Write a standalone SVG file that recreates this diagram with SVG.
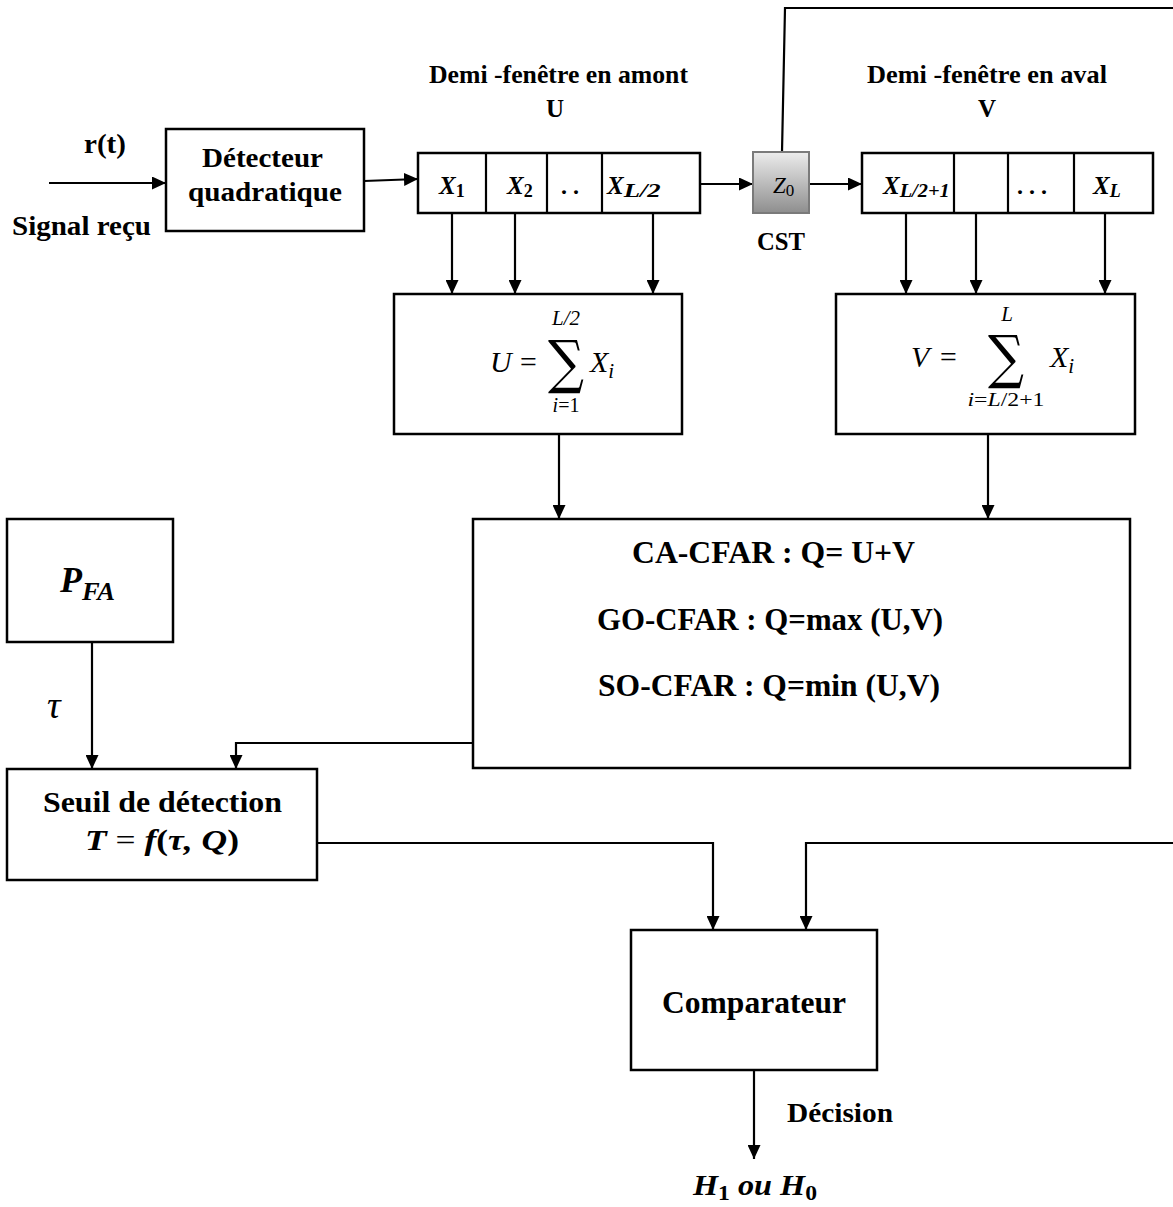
<svg xmlns="http://www.w3.org/2000/svg" width="1173" height="1207" viewBox="0 0 1173 1207">
<defs>
<marker id="ah" markerUnits="userSpaceOnUse" markerWidth="14" markerHeight="13" refX="14" refY="6.5" orient="auto">
<path d="M0,0 L14,6.5 L0,13 z" fill="#000"/>
</marker>
<linearGradient id="gcst" x1="0" y1="0" x2="0" y2="1">
<stop offset="0" stop-color="#ececec"/>
<stop offset="1" stop-color="#8e8e8e"/>
</linearGradient>
</defs>
<style>
.box{fill:#fff;stroke:#000;stroke-width:2.5}
.ln{fill:none;stroke:#000;stroke-width:2.2}
.ar{fill:none;stroke:#000;stroke-width:2.2;marker-end:url(#ah)}
.b{font-family:"Liberation Serif",serif;font-weight:bold;fill:#000}
.m{font-family:"Liberation Serif",serif;font-style:italic;fill:#000}
.mb{font-family:"Liberation Serif",serif;font-style:italic;font-weight:bold;fill:#000}
.sig{font-family:"DejaVu Serif",serif;fill:#000}
</style>
<rect width="1173" height="1207" fill="#fff"/>

<g id="connectors">
<path class="ar" d="M49,183 H166"/>
<path class="ar" d="M364,181 L418,179"/>
<path class="ar" d="M700,184 H753"/>
<path class="ar" d="M809,184 H862"/>
<path class="ar" d="M452,213 V294"/>
<path class="ar" d="M515,213 V294"/>
<path class="ar" d="M653,213 V294"/>
<path class="ar" d="M906,213 V294"/>
<path class="ar" d="M976,213 V294"/>
<path class="ar" d="M1105,213 V294"/>
<path class="ar" d="M559,434 V519"/>
<path class="ar" d="M988,434 V519"/>
<path class="ar" d="M92,642 V769"/>
<path class="ar" d="M473,743 H236 V769"/>
<path class="ar" d="M317,843 H713 V930"/>
<path class="ln" d="M782,152 L785,8 H1173"/>
<path class="ar" d="M1173,843 H806 V930"/>
<path class="ar" d="M754,1070 V1159"/>
</g>

<g id="input-labels">
<text class="b" x="84" y="153" font-size="28" textLength="42" lengthAdjust="spacingAndGlyphs">r(t)</text>
<text class="b" x="12" y="235" font-size="28" textLength="139" lengthAdjust="spacingAndGlyphs">Signal reçu</text>
</g>

<g id="detecteur">
<rect class="box" x="166" y="129" width="198" height="102"/>
<text class="b" x="202" y="167" font-size="28" textLength="121" lengthAdjust="spacingAndGlyphs">Détecteur</text>
<text class="b" x="188" y="201" font-size="28" textLength="154" lengthAdjust="spacingAndGlyphs">quadratique</text>
</g>

<g id="fenetre-amont">
<text class="b" x="429" y="83" font-size="25" textLength="259" lengthAdjust="spacingAndGlyphs">Demi -fenêtre en amont</text>
<text class="b" x="555" y="117" font-size="25" text-anchor="middle">U</text>
<rect class="box" x="418" y="153" width="282" height="60"/>
<path class="ln" d="M486,153 V213 M547,153 V213 M602,153 V213"/>
<text class="mb" x="439" y="194" font-size="25">X<tspan font-size="18" font-style="normal" dy="3">1</tspan></text>
<text class="mb" x="507" y="194" font-size="25">X<tspan font-size="18" font-style="normal" dy="3">2</tspan></text>
<text class="b" x="570" y="194" font-size="24" text-anchor="middle">. .</text>
<text class="mb" x="607" y="194" font-size="25">X<tspan font-size="18" dy="3" textLength="37" lengthAdjust="spacingAndGlyphs">L/2</tspan></text>
</g>

<g id="cst">
<rect x="753" y="152" width="56" height="61" fill="url(#gcst)" stroke="#7a7a7a" stroke-width="2"/>
<text class="m" x="773" y="193" font-size="23">Z<tspan font-size="17" font-style="normal" dy="3">0</tspan></text>
<text class="b" x="757" y="250" font-size="25" textLength="48" lengthAdjust="spacingAndGlyphs">CST</text>
</g>

<g id="fenetre-aval">
<text class="b" x="867" y="83" font-size="25" textLength="240" lengthAdjust="spacingAndGlyphs">Demi -fenêtre en aval</text>
<text class="b" x="987" y="117" font-size="25" text-anchor="middle">V</text>
<rect class="box" x="862" y="153" width="291" height="60"/>
<path class="ln" d="M954,153 V213 M1008,153 V213 M1074,153 V213"/>
<text class="mb" x="883" y="194" font-size="25">X<tspan font-size="18" dy="3" textLength="50" lengthAdjust="spacingAndGlyphs">L/2+1</tspan></text>
<text class="b" x="1032" y="194" font-size="24" text-anchor="middle">. . .</text>
<text class="mb" x="1093" y="194" font-size="25">X<tspan font-size="18" dy="3">L</tspan></text>
</g>

<g id="somme-u">
<rect class="box" x="394" y="294" width="288" height="140"/>
<text class="m" x="490" y="372" font-size="30">U</text>
<text class="m" x="528" y="372" font-size="30" text-anchor="middle" font-style="normal">=</text>
<text class="sig" x="548" y="382" font-size="58" textLength="36" lengthAdjust="spacingAndGlyphs">∑</text>
<text class="m" x="566" y="325" font-size="21" text-anchor="middle">L/2</text>
<text class="m" x="566" y="412" font-size="20" text-anchor="middle">i<tspan font-style="normal">=1</tspan></text>
<text class="m" x="590" y="372" font-size="30">X<tspan font-size="21" dy="6">i</tspan></text>
</g>

<g id="somme-v">
<rect class="box" x="836" y="294" width="299" height="140"/>
<text class="m" x="911" y="367" font-size="30">V</text>
<text class="m" x="948" y="367" font-size="30" text-anchor="middle" font-style="normal">=</text>
<text class="sig" x="988" y="377" font-size="58" textLength="36" lengthAdjust="spacingAndGlyphs">∑</text>
<text class="m" x="1007" y="321" font-size="21" text-anchor="middle">L</text>
<text class="m" x="1006" y="406" font-size="19" text-anchor="middle" textLength="77" lengthAdjust="spacingAndGlyphs">i<tspan font-style="normal">=</tspan>L<tspan font-style="normal">/2+1</tspan></text>
<text class="m" x="1050" y="367" font-size="30">X<tspan font-size="21" dy="6">i</tspan></text>
</g>

<g id="cfar">
<rect class="box" x="473" y="519" width="657" height="249"/>
<text class="b" x="632" y="563" font-size="31" textLength="283" lengthAdjust="spacingAndGlyphs">CA-CFAR : Q= U+V</text>
<text class="b" x="597" y="630" font-size="31" textLength="346" lengthAdjust="spacingAndGlyphs">GO-CFAR : Q=max (U,V)</text>
<text class="b" x="598" y="696" font-size="31" textLength="342" lengthAdjust="spacingAndGlyphs">SO-CFAR : Q=min (U,V)</text>
</g>

<g id="pfa">
<rect class="box" x="7" y="519" width="166" height="123"/>
<text class="mb" x="60" y="592" font-size="36">P<tspan font-size="25" dy="8" textLength="33" lengthAdjust="spacingAndGlyphs">FA</tspan></text>
</g>

<g id="tau-label">
<text class="m" x="47" y="718" font-size="38">τ</text>
</g>

<g id="seuil">
<rect class="box" x="7" y="769" width="310" height="111"/>
<text class="b" x="43" y="812" font-size="30" textLength="239" lengthAdjust="spacingAndGlyphs">Seuil de détection</text>
<text class="mb" x="85" y="850" font-size="30" textLength="154" lengthAdjust="spacingAndGlyphs">T <tspan font-style="normal" font-weight="normal">=</tspan> f<tspan font-style="normal">(</tspan>τ, Q<tspan font-style="normal">)</tspan></text>
</g>

<g id="comparateur">
<rect class="box" x="631" y="930" width="246" height="140"/>
<text class="b" x="662" y="1013" font-size="31" textLength="184" lengthAdjust="spacingAndGlyphs">Comparateur</text>
</g>

<g id="decision">
<text class="b" x="787" y="1122" font-size="28" textLength="106" lengthAdjust="spacingAndGlyphs">Décision</text>
<text class="mb" x="693" y="1195" font-size="30" textLength="124" lengthAdjust="spacingAndGlyphs">H<tspan font-size="22" font-style="normal" dy="5">1</tspan><tspan dy="-5"> ou H</tspan><tspan font-size="22" font-style="normal" dy="5">0</tspan></text>
</g>
</svg>
